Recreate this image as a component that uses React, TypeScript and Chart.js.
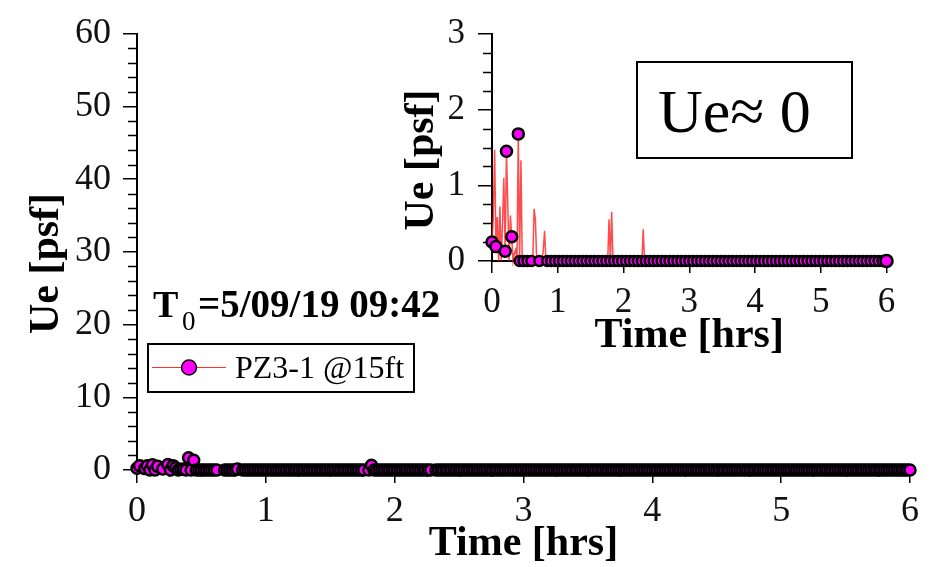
import React, { useEffect, useRef } from "react";
import { Chart, registerables } from "chart.js";

Chart.register(...registerables);

// ---- data ----
const TIME_STEP_HRS = 0.02; // sampling interval of the readings
const UE_PSF: number[] = [
  // 0.00 - 0.38 h
  0.25, 0.58, 1.47, 0.19, 0.58, 0, 0.72, 0, 0.5, 1.1, 0.13, 1.45, 0.75, 0, 0.6, 0.32, 0, 0.1, 0.15, 0,
  // 0.40 - 0.78 h
  1.68, 0, 1.33, 0, 0, 0, 0, 0, 0, 0, 0, 0, 0.69, 0.55, 0, 0, 0, 0, 0, 0.15,
  // 0.80 - 1.18 h
  0.4, 0, 0, 0, 0, 0, 0, 0, 0, 0, 0, 0, 0, 0, 0, 0, 0, 0, 0, 0,
  // 1.20 - 1.58 h
  0, 0, 0, 0, 0, 0, 0, 0, 0, 0, 0, 0, 0, 0, 0, 0, 0, 0, 0, 0,
  // 1.60 - 1.98 h
  0, 0, 0, 0, 0, 0, 0, 0, 0, 0.55, 0, 0.65, 0, 0, 0, 0, 0, 0, 0, 0,
  // 2.00 - 2.38 h
  0, 0, 0, 0, 0, 0, 0, 0, 0, 0, 0, 0, 0, 0, 0, 0.42, 0, 0, 0, 0,
  // 2.40 - 2.78 h
  0, 0, 0, 0, 0, 0, 0, 0, 0, 0, 0, 0, 0, 0, 0, 0, 0, 0, 0, 0,
  // 2.80 - 3.18 h
  0, 0, 0, 0, 0, 0, 0, 0, 0, 0, 0, 0, 0, 0, 0, 0, 0, 0, 0, 0,
  // 3.20 - 3.58 h
  0, 0, 0, 0, 0, 0, 0, 0, 0, 0, 0, 0, 0, 0, 0, 0, 0, 0, 0, 0,
  // 3.60 - 3.98 h
  0, 0, 0, 0, 0, 0, 0, 0, 0, 0, 0, 0, 0, 0, 0, 0, 0, 0, 0, 0,
  // 4.00 - 4.38 h
  0, 0, 0, 0, 0, 0, 0, 0, 0, 0, 0, 0, 0, 0, 0, 0, 0, 0, 0, 0,
  // 4.40 - 4.78 h
  0, 0, 0, 0, 0, 0, 0, 0, 0, 0, 0, 0, 0, 0, 0, 0, 0, 0, 0, 0,
  // 4.80 - 5.18 h
  0, 0, 0, 0, 0, 0, 0, 0, 0, 0, 0, 0, 0, 0, 0, 0, 0, 0, 0, 0,
  // 5.20 - 5.58 h
  0, 0, 0, 0, 0, 0, 0, 0, 0, 0, 0, 0, 0, 0, 0, 0, 0, 0, 0, 0,
  // 5.60 - 5.98 h
  0, 0, 0, 0, 0, 0, 0, 0, 0, 0, 0, 0, 0, 0, 0, 0, 0, 0, 0, 0,
  // 6.00 h
  0,
];

// readings drawn without a symbol in the main plot / with a symbol in the inset
const MAIN_UNMARKED = [2, 9, 11, 32, 33, 40, 89, 115];
const INSET_MARKED = [0, 3, 10, 11, 15, 20];

const SERIES_LABEL = "PZ3-1 @15ft";
const T0_LABEL = "=5/09/19 09:42";
const Y_TITLE = "Ue [psf]";
const X_TITLE = "Time [hrs]";
const NOTE = "Ue\u2248 0";

const MAIN_X = { min: 0, max: 6, step: 1, minor: 0.25 };
const MAIN_Y = { min: 0, max: 60, step: 10, minor: 2 };
const INSET_X = { min: 0, max: 6, step: 1, minor: 0.5 };
const INSET_Y = { min: 0, max: 3, step: 1, minor: 0.25 };

const SERIF = "'Liberation Serif', 'Times New Roman', serif";
const MAGENTA = "#ff00ff";

function points() {
  return UE_PSF.map((v, i) => ({ x: +(i * TIME_STEP_HRS).toFixed(2), y: v }));
}

function drawMinorTicks(chart: any, xr: any, yr: any, xLen: number, yLen: number) {
  const ctx = chart.ctx;
  const xs = chart.scales.x;
  const ys = chart.scales.y;
  const area = chart.chartArea;
  ctx.save();
  ctx.strokeStyle = "#000";
  ctx.lineWidth = 1.5;
  ctx.beginPath();
  for (let v = yr.min + yr.minor; v < yr.max + 1e-9; v += yr.minor) {
    const r = v / yr.step;
    if (Math.abs(r - Math.round(r)) < 1e-6) continue;
    const y = Math.round(ys.getPixelForValue(v)) + 0.5;
    ctx.moveTo(area.left - yLen, y);
    ctx.lineTo(area.left, y);
  }
  for (let v = xr.min + xr.minor; v < xr.max + 1e-9; v += xr.minor) {
    const r = v / xr.step;
    if (Math.abs(r - Math.round(r)) < 1e-6) continue;
    const x = Math.round(xs.getPixelForValue(v)) + 0.5;
    ctx.moveTo(x, area.bottom);
    ctx.lineTo(x, area.bottom + xLen);
  }
  ctx.stroke();
  ctx.restore();
}

function drawTitles(chart: any, yTitleX: number, yTitleCY: number, xTitleY: number, size: number) {
  const ctx = chart.ctx;
  const area = chart.chartArea;
  ctx.save();
  ctx.fillStyle = "#000";
  ctx.font = `bold ${size}px ${SERIF}`;
  ctx.textAlign = "center";
  ctx.textBaseline = "alphabetic";
  ctx.fillText(X_TITLE, (area.left + area.right) / 2, xTitleY);
  ctx.translate(yTitleX, yTitleCY);
  ctx.rotate(-Math.PI / 2);
  ctx.fillText(Y_TITLE, 0, 0);
  ctx.restore();
}

const mainDecor = {
  id: "mainDecor",
  beforeDatasetsDraw(chart: any) {
    drawMinorTicks(chart, MAIN_X, MAIN_Y, 7, 9);
  },
  afterDraw(chart: any) {
    const ctx = chart.ctx;
    drawTitles(chart, 58, 263.5, 555, 42);
    ctx.save();
    ctx.fillStyle = "#000";
    ctx.textAlign = "left";
    ctx.textBaseline = "alphabetic";
    // T0 label
    ctx.font = `bold 38px ${SERIF}`;
    ctx.fillText("T", 153, 317);
    ctx.font = `27px ${SERIF}`;
    ctx.fillText("0", 182, 330);
    ctx.font = `bold 39px ${SERIF}`;
    ctx.fillText(T0_LABEL, 198, 317);
    // legend
    ctx.strokeStyle = "#000";
    ctx.lineWidth = 2;
    ctx.strokeRect(148, 344, 266, 48);
    ctx.strokeStyle = "#ff3030";
    ctx.lineWidth = 1.2;
    ctx.beginPath();
    ctx.moveTo(152, 367.5);
    ctx.lineTo(226, 367.5);
    ctx.stroke();
    ctx.beginPath();
    ctx.arc(189, 367.5, 7.5, 0, Math.PI * 2);
    ctx.fillStyle = MAGENTA;
    ctx.fill();
    ctx.strokeStyle = "#000";
    ctx.lineWidth = 1.5;
    ctx.stroke();
    ctx.fillStyle = "#000";
    ctx.font = `32px ${SERIF}`;
    ctx.fillText(SERIES_LABEL, 235, 378);
    ctx.restore();
  },
};

const insetDecor = {
  id: "insetDecor",
  beforeDatasetsDraw(chart: any) {
    drawMinorTicks(chart, INSET_X, INSET_Y, 6, 9);
  },
  afterDraw(chart: any) {
    const ctx = chart.ctx;
    drawTitles(chart, 33, 160, 347, 42);
    ctx.save();
    ctx.strokeStyle = "#000";
    ctx.lineWidth = 2;
    ctx.strokeRect(237, 62, 215, 96);
    ctx.fillStyle = "#000";
    ctx.font = `62px ${SERIF}`;
    ctx.textAlign = "left";
    ctx.textBaseline = "alphabetic";
    ctx.fillText(NOTE, 258, 132);
    ctx.restore();
  },
};

function axis(r: any, opts: any) {
  return {
    type: "linear",
    min: r.min,
    max: r.max,
    afterFit: opts.fit,
    ticks: {
      stepSize: r.step,
      padding: opts.pad,
      color: "#111",
      font: { family: SERIF, size: opts.font },
    },
    grid: {
      drawOnChartArea: false,
      drawTicks: true,
      tickLength: opts.tick,
      color: "#000",
      lineWidth: 1.5,
    },
    border: { color: "#000", width: 2 },
  };
}

export default function App() {
  const mainRef = useRef<HTMLCanvasElement>(null);
  const insetRef = useRef<HTMLCanvasElement>(null);

  useEffect(() => {
    const data = points();
    const main = new Chart(mainRef.current as HTMLCanvasElement, {
      type: "line",
      data: {
        datasets: [
          {
            data,
            borderColor: "#ff2020",
            borderWidth: 1,
            tension: 0,
            clip: false,
            pointBackgroundColor: MAGENTA,
            pointBorderColor: "#000",
            pointBorderWidth: 2.5,
            pointRadius: (c: any) => (MAIN_UNMARKED.includes(c.dataIndex) ? 0 : 5.5),
          } as any,
        ],
      },
      options: {
        animation: false,
        responsive: false,
        devicePixelRatio: 1,
        events: [],
        layout: { autoPadding: false, padding: { left: 0, top: 25, right: 28, bottom: 0 } },
        plugins: { legend: { display: false }, tooltip: { enabled: false } },
        scales: {
          x: axis(MAIN_X, { fit: (s: any) => { s.height = 97; }, pad: 7, font: 36, tick: 13 }),
          y: axis(MAIN_Y, { fit: (s: any) => { s.width = 137; }, pad: 12, font: 36, tick: 14 }),
        } as any,
      },
      plugins: [mainDecor],
    });

    const inset = new Chart(insetRef.current as HTMLCanvasElement, {
      type: "line",
      data: {
        datasets: [
          {
            data,
            borderColor: "rgba(255,30,30,0.8)",
            borderWidth: 1.5,
            tension: 0,
            clip: false,
            pointBackgroundColor: MAGENTA,
            pointBorderColor: "#000",
            pointBorderWidth: 2.5,
            pointRadius: (c: any) => {
              const i = c.dataIndex;
              if (i === UE_PSF.length - 1) return 6;
              if (INSET_MARKED.includes(i)) return 5.5;
              if (UE_PSF[i] === 0 && i % 3 === 0) return 5;
              return 0;
            },
          } as any,
        ],
      },
      options: {
        animation: false,
        responsive: false,
        devicePixelRatio: 1,
        events: [],
        layout: { autoPadding: false, padding: { left: 0, top: 25, right: 51.5, bottom: 0 } },
        plugins: { legend: { display: false }, tooltip: { enabled: false } },
        scales: {
          x: axis(INSET_X, { fit: (s: any) => { s.height = 99; }, pad: 9, font: 35, tick: 12 }),
          y: axis(INSET_Y, { fit: (s: any) => { s.width = 92; }, pad: 13, font: 35, tick: 14 }),
        } as any,
      },
      plugins: [insetDecor],
    });

    return () => {
      main.destroy();
      inset.destroy();
    };
  }, []);

  return (
    <div style={{ position: "fixed", left: 0, top: 0, width: 938, height: 567, background: "#fff" }}>
      <canvas ref={mainRef} width={938} height={567} style={{ position: "absolute", left: 0, top: 0, width: 938, height: 567 }} />
      <canvas ref={insetRef} width={538} height={360} style={{ position: "absolute", left: 400, top: 0, width: 538, height: 360 }} />
    </div>
  );
}
